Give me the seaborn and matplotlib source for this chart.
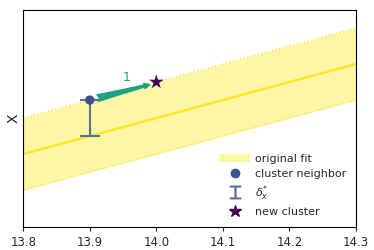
import numpy as np
import pandas as pd
import seaborn as sns
import matplotlib.pyplot as plt
from matplotlib.patches import Patch
from matplotlib.lines import Line2D

# fit line and band
fit_x = [13.8, 14.3]
fit_y = [0.336, 0.751]
band_half = 0.166

# cluster neighbor with its offset down to the fit
neighbor_x = [13.9]
neighbor_y = [0.585]
delta_low = [0.166]

# new cluster
new_x = [14.0]
new_y = [0.668]

# arrow from neighbor to new cluster
arrow_start = (13.912, 0.594)
arrow_end = (13.99, 0.656)
arrow_label = "1"

sns.set_style("white")
plt.rcParams['font.family'] = ['DejaVu Sans']
plt.rcParams['font.size'] = 8

yellow = '#fde725'
dot_col = '#3b528b'
bar_col = '#5b6f9c'
star_col = '#440154'
arrow_col = '#21a085'

fig, ax = plt.subplots(figsize=(3.74, 2.5), dpi=100)

fit = pd.DataFrame({'x': fit_x, 'y': fit_y})
lo = np.array(fit_y) - band_half
hi = np.array(fit_y) + band_half
ax.fill_between(fit_x, lo, hi, color=yellow, alpha=0.4, linewidth=0)
ax.plot(fit_x, lo, color=yellow, ls=':', lw=1)
ax.plot(fit_x, hi, color=yellow, ls=':', lw=1)
sns.lineplot(data=fit, x='x', y='y', color=yellow, lw=1.8, ax=ax)

ax.errorbar(neighbor_x, neighbor_y, yerr=[delta_low, [0]], fmt='none',
            ecolor=bar_col, capsize=7, elinewidth=1.5, capthick=1.5, zorder=3)
sns.scatterplot(x=neighbor_x, y=neighbor_y, color=dot_col, s=45, edgecolor='none', ax=ax, zorder=4)
sns.scatterplot(x=new_x, y=new_y, color=star_col, marker='*', s=120, edgecolor='none', ax=ax, zorder=4)

ax.annotate('', xy=arrow_end, xytext=arrow_start,
            arrowprops=dict(arrowstyle='fancy,head_length=0.5,head_width=0.45,tail_width=0.6',
                            color=arrow_col, shrinkA=0, shrinkB=0))
ax.text(13.955, 0.687, arrow_label, color=arrow_col, fontsize=9, ha='center', va='center')

ax.set_xlim(13.8, 14.3)
ax.set_ylim(0, 1)
ax.set_xticks([13.8, 13.9, 14.0, 14.1, 14.2, 14.3])
ax.set_yticks([])
ax.set_xlabel('')
ax.set_ylabel('X', fontsize=10, labelpad=2)
ax.tick_params(axis='x', bottom=True, length=3, labelsize=8.5)
for s in ax.spines.values():
    s.set_color('black')
    s.set_linewidth(0.8)

handles = [
    Patch(facecolor=yellow, alpha=0.4, edgecolor='none'),
    Line2D([], [], marker='o', color=dot_col, ls='none', markersize=6),
    Line2D([], [], marker='$\u2336$', color=bar_col, ls='none', markersize=9),
    Line2D([], [], marker='*', color=star_col, ls='none', markersize=9),
]
labels = ['original fit', 'cluster neighbor', r'$\delta_{x}^{*}$', 'new cluster']
ax.legend(handles, labels, loc='lower right', frameon=False, fontsize=8,
          handlelength=2.8, handletextpad=0.4, labelspacing=0.4,
          bbox_to_anchor=(1.0, 0.0))

plt.subplots_adjust(left=0.062, right=0.952, top=0.96, bottom=0.092)
plt.savefig('out.png', dpi=100)
